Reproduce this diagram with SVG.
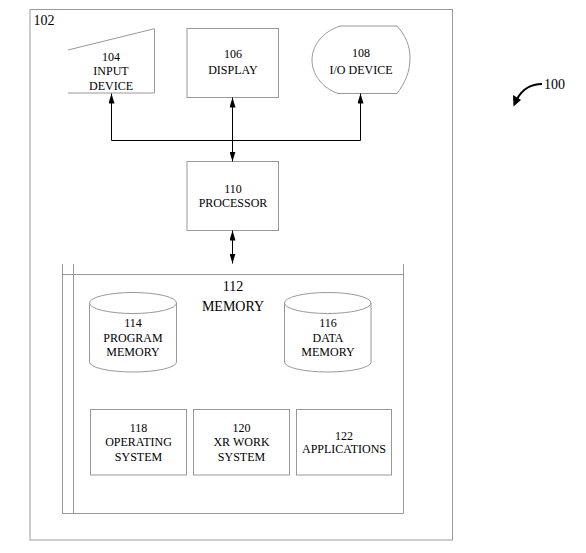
<svg xmlns="http://www.w3.org/2000/svg" width="586" height="553" viewBox="0 0 586 553">
<defs>
<marker id="ah" viewBox="0 0 10 6" refX="10" refY="3" markerWidth="10" markerHeight="6" markerUnits="userSpaceOnUse" orient="auto-start-reverse">
<path d="M0,0 L10,3 L0,6 Z" fill="#000"/>
</marker>
<style>
.b{fill:#fff;stroke:#999;stroke-width:1}
.o{fill:none;stroke:#999;stroke-width:1}
.t{font-family:"Liberation Serif","Times New Roman",serif;font-size:12px;fill:#000;text-anchor:middle}
.l{font-family:"Liberation Serif","Times New Roman",serif;font-size:14px;fill:#000}
.c{fill:none;stroke:#000;stroke-width:1}
</style>
</defs>
<rect width="586" height="553" fill="#fff"/>

<g id="n102">
<rect x="30" y="9.5" width="422.5" height="530.5" class="o"/>
<text x="33.5" y="25" class="l">102</text>
</g>

<g id="n100">
<path d="M542,84 C530,84 522,90 517,99" fill="none" stroke="#000" stroke-width="2"/>
<path d="M513.5,106.5 L513,95 L521,100 Z" fill="#000"/>
<text x="544" y="89" class="l">100</text>
</g>

<g id="n104">
<path d="M68,50 L154.5,28.7 L154.5,93 L68,93" class="o"/>
<text x="111" y="61" class="t">104</text>
<text x="111" y="75" class="t">INPUT</text>
<text x="111" y="90" class="t">DEVICE</text>
</g>

<g id="n106">
<rect x="187" y="28.5" width="91.5" height="69" class="o"/>
<text x="233" y="58" class="t">106</text>
<text x="233" y="74" class="t">DISPLAY</text>
</g>

<g id="n108">
<path d="M340,26 L397,26 C405,35 410,45 410,58 C410,72 405,83 397,93.5 L338,93.5 C322,88 312,74 312,60 C312,46 322,32 340,26 Z" class="o"/>
<text x="361" y="57" class="t">108</text>
<text x="361" y="74" class="t">I/O DEVICE</text>
</g>

<g id="n110">
<rect x="187" y="161.5" width="91.5" height="69" class="o"/>
<text x="233" y="193" class="t">110</text>
<text x="233" y="207" class="t">PROCESSOR</text>
</g>

<g id="n112">
<path d="M62.5,264 V513.5 H403.5 V264 M73.5,264 V513.5 M62.5,274.5 H403.5" class="o"/>
<text x="233" y="291" class="l" text-anchor="middle">112</text>
<text x="233" y="311" class="l" text-anchor="middle">MEMORY</text>
</g>

<g id="n114">
<path d="M89.5,303 V362 A43.5,10 0 0 0 176.5,362 V303" class="o"/>
<ellipse cx="133" cy="303" rx="43.5" ry="10.5" class="o"/>
<text x="133" y="327" class="t">114</text>
<text x="133" y="342" class="t">PROGRAM</text>
<text x="133" y="356" class="t">MEMORY</text>
</g>

<g id="n116">
<path d="M284.5,303 V362 A43.25,10 0 0 0 371,362 V303" class="o"/>
<ellipse cx="327.75" cy="303" rx="43.25" ry="10.5" class="o"/>
<text x="328" y="327" class="t">116</text>
<text x="328" y="342" class="t">DATA</text>
<text x="328" y="356" class="t">MEMORY</text>
</g>

<g id="n118">
<rect x="90.5" y="409.5" width="96" height="65.5" class="o"/>
<text x="138.5" y="432" class="t">118</text>
<text x="138.5" y="446" class="t">OPERATING</text>
<text x="138.5" y="461" class="t">SYSTEM</text>
</g>

<g id="n120">
<rect x="193.5" y="409.5" width="96" height="65.5" class="o"/>
<text x="241.5" y="432" class="t">120</text>
<text x="241.5" y="446" class="t">XR WORK</text>
<text x="241.5" y="461" class="t">SYSTEM</text>
</g>

<g id="n122">
<rect x="296.5" y="409.5" width="95" height="65.5" class="o"/>
<text x="344" y="440" class="t">122</text>
<text x="344" y="453" class="t">APPLICATIONS</text>
</g>

<g id="connectors">
<path d="M111.5,93.5 V140.5 H360.5 V93.5" class="c" marker-start="url(#ah)" marker-end="url(#ah)"/>
<path d="M232.5,97.5 V161.5" class="c" marker-start="url(#ah)" marker-end="url(#ah)"/>
<path d="M232.5,230.5 V263.5" class="c" marker-start="url(#ah)" marker-end="url(#ah)"/>
</g>
</svg>
